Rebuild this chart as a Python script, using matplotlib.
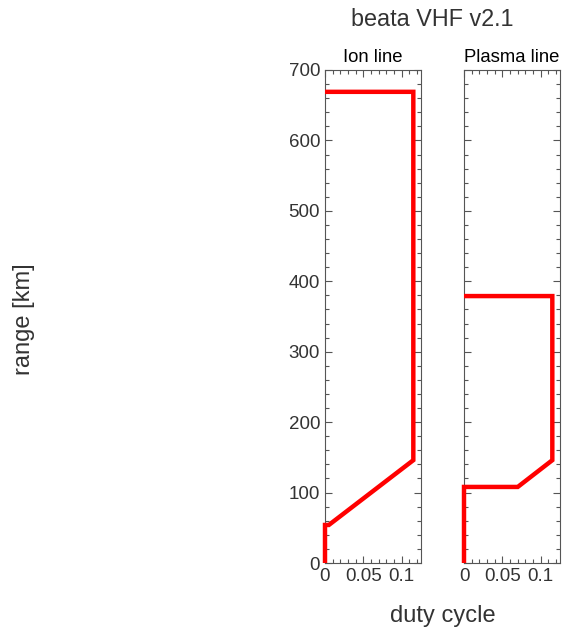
import matplotlib
matplotlib.use("Agg")
import matplotlib.pyplot as plt
from matplotlib.ticker import MultipleLocator

plt.rcParams['font.family'] = ['Liberation Sans', 'DejaVu Sans']

ion_duty = [0, 0, 0.005, 0.115, 0.115, 0]
ion_range = [0, 54, 54, 146, 669, 669]
pl_duty = [0, 0, 0.070, 0.115, 0.115, 0]
pl_range = [0, 108, 108, 146, 379, 379]
panel_titles = ["Ion line", "Plasma line"]
main_title = "beata VHF v2.1"

txt = '#333333'
fig = plt.figure(figsize=(5.63, 6.33), dpi=100)
bottom = 1 - 563/633
height = (563 - 70)/633
lefts = [325/563, 464/563]
width = 96/563
data = [(ion_duty, ion_range), (pl_duty, pl_range)]
for i, (l, (d, r), t) in enumerate(zip(lefts, data, panel_titles)):
    ax = fig.add_axes([l, bottom, width, height])
    ax.plot(d, r, color='red', lw=3.2, solid_joinstyle='miter',
            solid_capstyle='butt', clip_on=False, zorder=3)
    ax.set_xlim(0, 0.125)
    ax.set_ylim(0, 700)
    ax.xaxis.set_major_locator(MultipleLocator(0.05))
    ax.xaxis.set_minor_locator(MultipleLocator(0.01))
    ax.yaxis.set_major_locator(MultipleLocator(100))
    ax.yaxis.set_minor_locator(MultipleLocator(20))
    ax.set_xticks([0, 0.05, 0.1])
    ax.set_xticklabels(['0', '0.05', '0.1'])
    ax.tick_params(which='both', direction='in', top=True, right=True,
                   colors='#555555', labelcolor=txt, labelsize=13.5, width=0.8)
    ax.tick_params(which='major', length=5)
    ax.tick_params(which='minor', length=3)
    if i == 1:
        ax.set_yticklabels([])
    for s in ax.spines.values():
        s.set_color('#555555')
        s.set_linewidth(0.8)
    ax.set_title(t, fontsize=13.3, color='black', pad=6)

fig.text(432/563, 1 - 20/633, main_title, ha='center', va='center', fontsize=16.8, color=txt)
fig.text(443/563, 1 - 616/633, "duty cycle", ha='center', va='center', fontsize=17, color=txt)
fig.text(24/563, 1 - 319/633, "range [km]", ha='center', va='center', rotation=90, fontsize=17, color=txt)

fig.savefig("out.png", dpi=100)
